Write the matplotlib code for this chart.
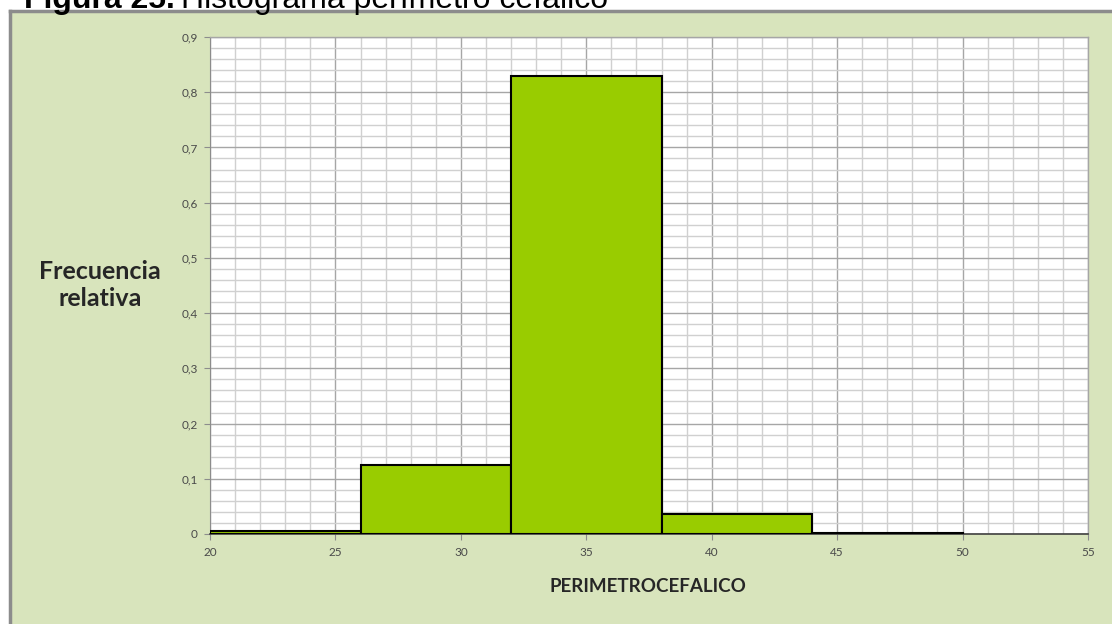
import matplotlib.pyplot as plt
from matplotlib.patches import Rectangle
from matplotlib.ticker import MultipleLocator

# histogram data (bin left edges, width, relative frequency)
bin_edges = [20, 26, 32, 38, 44]
bin_width = 6
rel_freq = [0.005, 0.125, 0.830, 0.036, 0.002]

x_ticks = [20, 25, 30, 35, 40, 45, 50, 55]
y_ticks = [0, 0.1, 0.2, 0.3, 0.4, 0.5, 0.6, 0.7, 0.8, 0.9]
y_labels = ['0', '0,1', '0,2', '0,3', '0,4', '0,5', '0,6', '0,7', '0,8', '0,9']

W, H = 1112, 624
fig = plt.figure(figsize=(W / 100, H / 100), dpi=100)
fig.patch.set_facecolor('white')

# background axes: green chart area with grey frame on left/top
bg = fig.add_axes([0, 0, 1, 1], zorder=-1)
bg.set_xlim(0, W)
bg.set_ylim(H, 0)
bg.axis('off')
bg.add_patch(Rectangle((10, 11), W - 10, H - 11, facecolor='#D8E4BC', edgecolor='none'))
bg.plot([10, 10], [11, H], color='#8c8c8c', lw=2.5)
bg.plot([10, W], [11, 11], color='#8c8c8c', lw=2.5)

# title, cut at the top edge as in the source
bg.text(24, 8, 'Figura 25.', fontsize=23, fontweight='bold',
        family='Liberation Sans', va='baseline', ha='left')
bg.text(181, 8, 'Histograma perímetro cefálico', fontsize=23,
        family='Liberation Sans', va='baseline', ha='left')

ax = fig.add_axes([210 / W, 1 - 534 / H, (1088 - 210) / W, (534 - 37) / H], zorder=1)
ax.set_facecolor('white')

ax.bar(bin_edges, rel_freq, width=bin_width, align='edge', color='#99CC00',
       edgecolor='black', linewidth=1.5, zorder=3)

ax.set_xlim(20, 55)
ax.set_ylim(0, 0.9)
ax.set_xticks(x_ticks)
ax.set_yticks(y_ticks)
ax.set_yticklabels(y_labels)
ax.xaxis.set_minor_locator(MultipleLocator(1))
ax.yaxis.set_minor_locator(MultipleLocator(0.02))

ax.grid(which='major', color='#a6a6a6', lw=1.0, zorder=1)
ax.grid(which='minor', color='#d0d0d0', lw=1.0, zorder=1)
ax.set_axisbelow(True)

for s in ['top', 'right']:
    ax.spines[s].set_color('#a6a6a6')
    ax.spines[s].set_linewidth(1.0)
ax.spines['left'].set_color('#8c8c8c')
ax.spines['bottom'].set_color('#404040')
ax.spines['bottom'].set_linewidth(1.2)

ax.tick_params(which='major', length=4, color='#8c8c8c', labelsize=8.5,
               labelcolor='#4a4a4a', pad=5)
ax.tick_params(which='minor', length=0)
for lab in ax.get_xticklabels() + ax.get_yticklabels():
    lab.set_family('Lato')

bg.text(100, 285, 'Frecuencia\nrelativa', fontsize=18, fontweight='bold',
        family='Lato', ha='center', va='center', color='#262626', linespacing=1.25)
bg.text(648, 586, 'PERIMETROCEFALICO', fontsize=13.5, fontweight='bold',
        family='Lato', ha='center', va='center', color='#262626')

fig.savefig('out.png', dpi=100)
